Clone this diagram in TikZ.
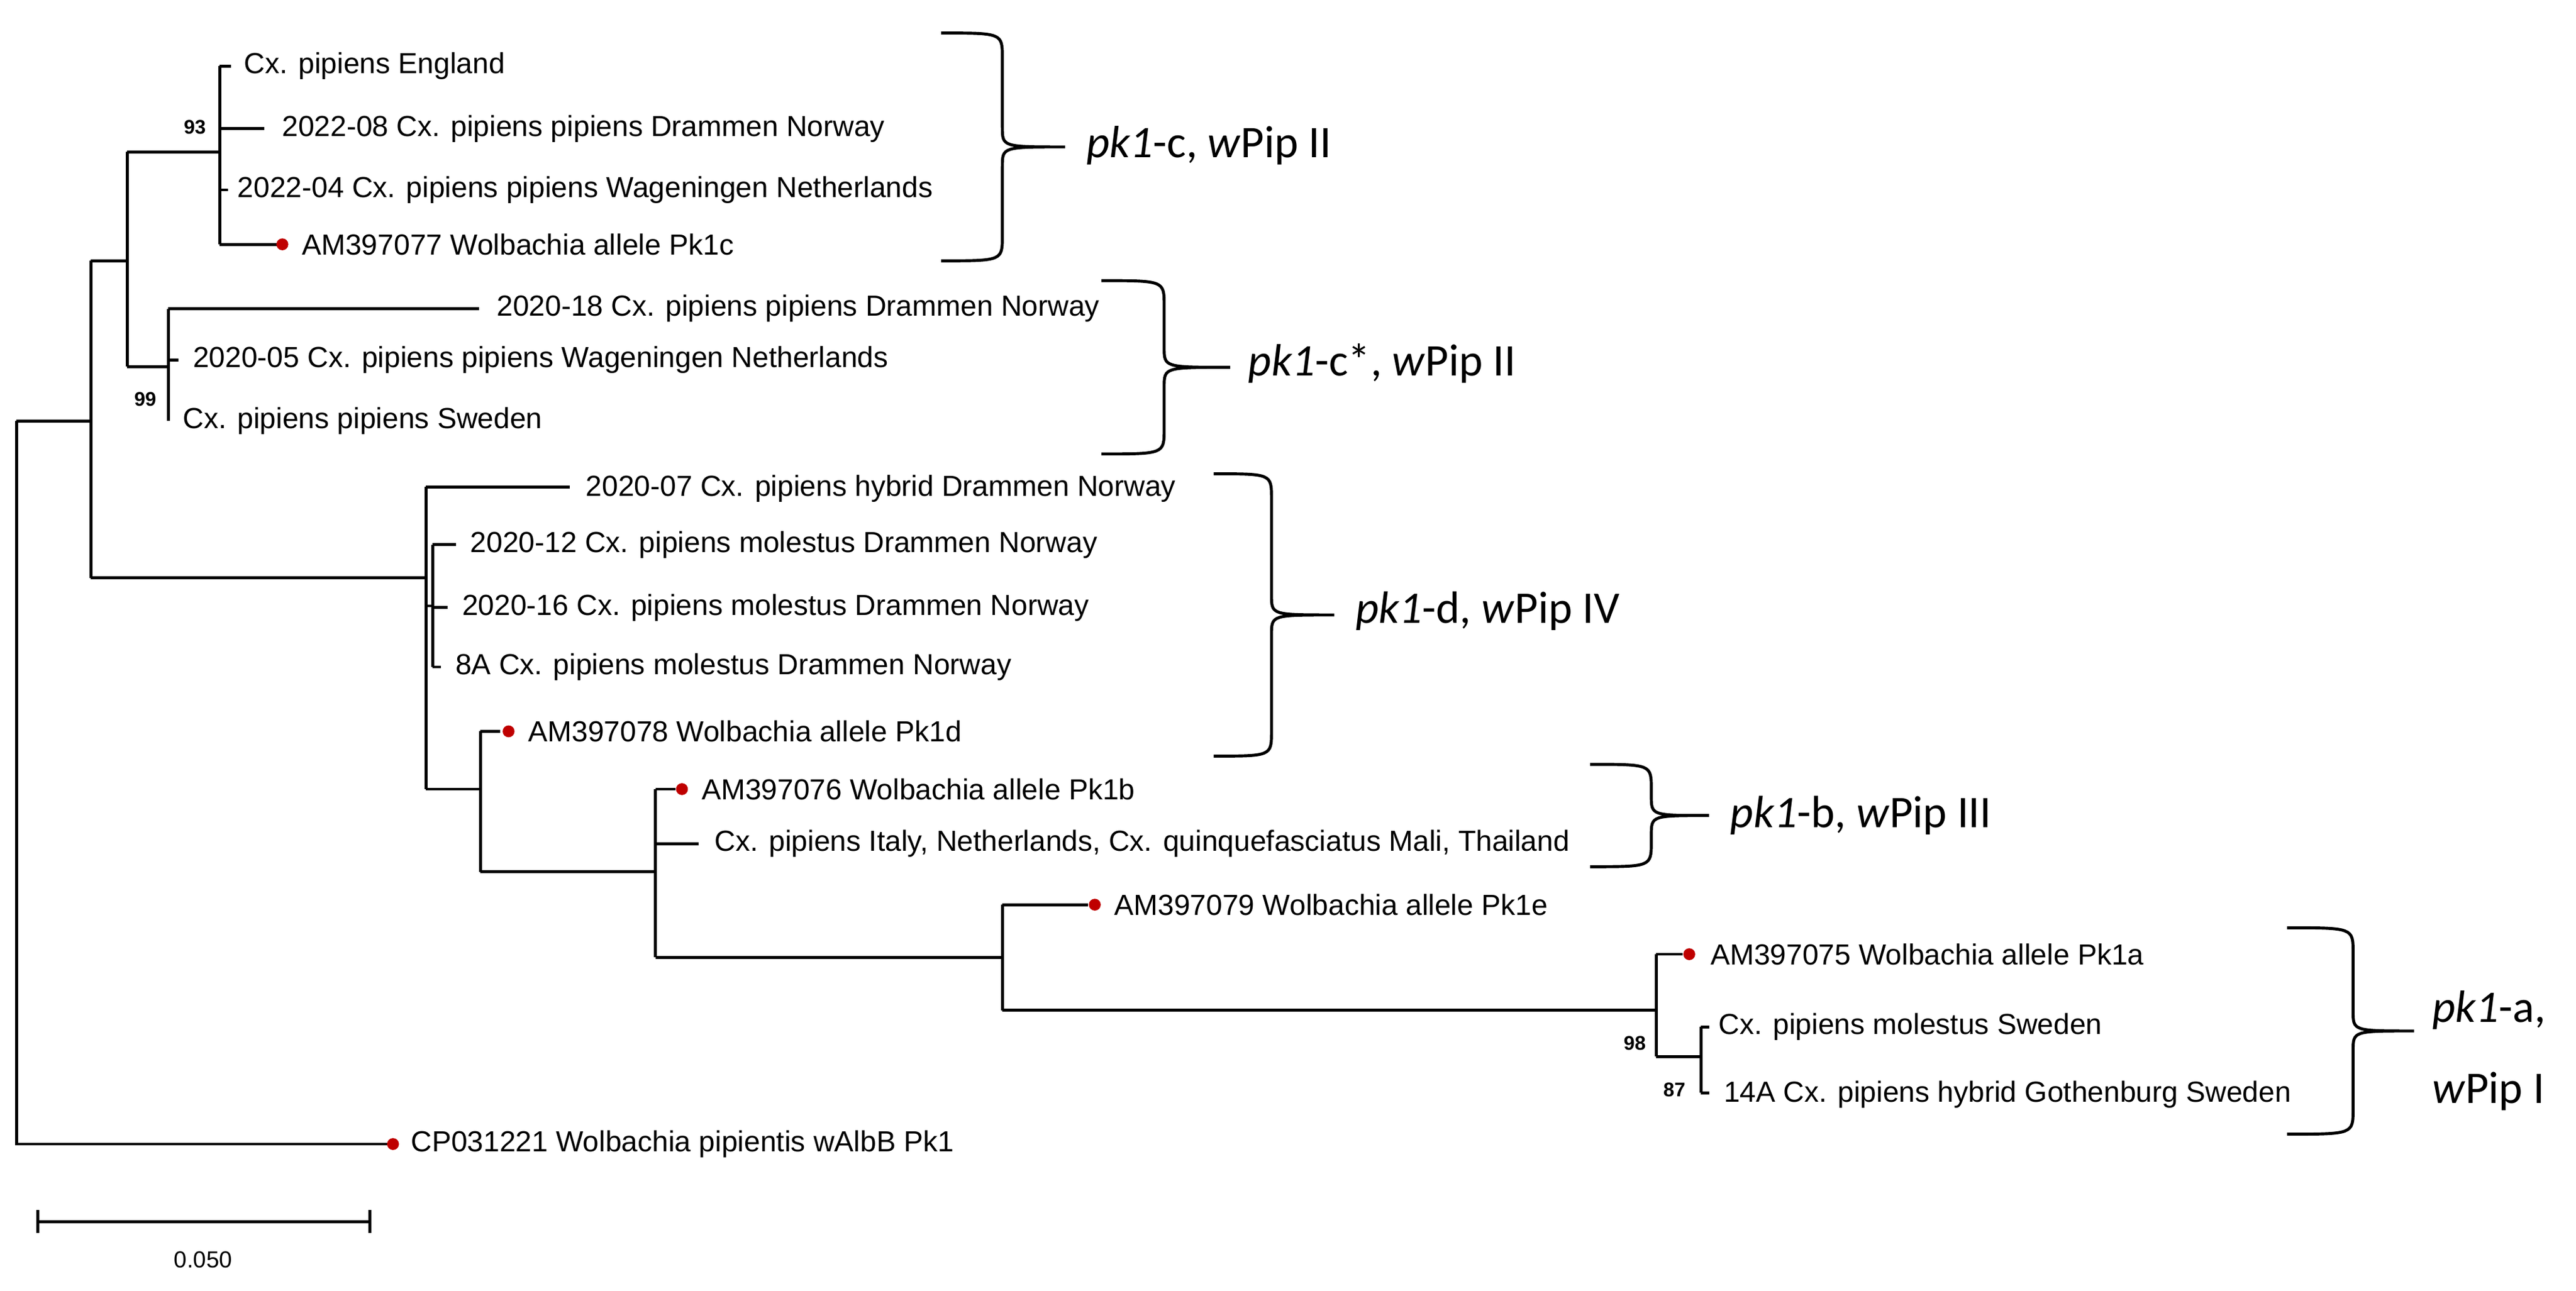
\documentclass[tikz,border=0pt]{standalone}
\usepackage{fontspec}
\setmainfont{Liberation Sans}
\newfontfamily\grpfont{Carlito}
\begin{document}
\begin{tikzpicture}[x=0.25mm,y=-0.25mm,line width=0.45mm,
 leaf/.style={anchor=west,inner sep=0,font=\fontsize{12.5}{14}\selectfont},
 bs/.style={inner sep=0,font=\bfseries\fontsize{8.5}{10}\selectfont},
 grp/.style={anchor=west,inner sep=0,font=\grpfont\fontsize{19.5}{22}\selectfont},
 dot/.style={fill=red!75!black,draw=none}]
\useasboundingbox (0,0) rectangle (1560,782);
% root
\draw (10,255) -- (10,693) -- (237,693);
\draw (10,255) -- (55,255);
\draw (55,158) -- (55,350);
\draw (55,158) -- (77,158); \draw (77,92) -- (77,222);
\draw (77,92) -- (133,92); \draw (133,40) -- (133,148);
\draw (133,40) -- (140,40);
\draw (133,78) -- (160,78);
\draw (133,115) -- (138,115);
\draw (133,148) -- (170,148);
\draw (77,222) -- (102,222); \draw (102,187) -- (102,255);
\draw (102,187) -- (290,187);
\draw (102,218) -- (108,218);
\draw (55,350) -- (258,350); \draw (258,295) -- (258,478);
\draw (258,295) -- (345,295);
\draw (258,367) -- (262,367); \draw (262,330) -- (262,404);
\draw (262,330) -- (276,330); \draw (262,368) -- (271,368); \draw (262,404) -- (267,404);
\draw (258,478) -- (291,478); \draw (291,443) -- (291,528);
\draw (291,443) -- (303,443);
\draw (291,528) -- (397,528); \draw (397,478) -- (397,580);
\draw (397,478) -- (409,478);
\draw (397,511) -- (423,511);
\draw (397,580) -- (607,580); \draw (607,548) -- (607,612);
\draw (607,548) -- (659,548);
\draw (607,612) -- (1003,612); \draw (1003,578) -- (1003,640);
\draw (1003,578) -- (1019,578);
\draw (1003,640) -- (1030,640); \draw (1030,622) -- (1030,662);
\draw (1030,622) -- (1035,622); \draw (1030,662) -- (1035,662);
% dots
\foreach \p in {(171,148),(238,693),(308,443),(413,478),(663,548),(1023,578)} \fill[dot] \p circle (3.6);
% leaves
\node[leaf] (l1) at (147,40) {Cx. pipiens England};
\node[leaf] (l2) at (170,78) {2022-08 Cx. pipiens pipiens Drammen Norway};
\node[leaf] (l3) at (143,115) {2022-04 Cx. pipiens pipiens Wageningen Netherlands};
\node[leaf] (l4) at (182,148) {AM397077 Wolbachia allele Pk1c};
\node[leaf] (l5) at (300,187) {2020-18 Cx. pipiens pipiens Drammen Norway};
\node[leaf] (l6) at (116,218) {2020-05 Cx. pipiens pipiens Wageningen Netherlands};
\node[leaf] (l7) at (110,255) {Cx. pipiens pipiens Sweden};
\node[leaf] (l8) at (354,296) {2020-07 Cx. pipiens hybrid Drammen Norway};
\node[leaf] (l9) at (284,330) {2020-12 Cx. pipiens molestus Drammen Norway};
\node[leaf] (l10) at (279,368) {2020-16 Cx. pipiens molestus Drammen Norway};
\node[leaf] (l11) at (275,404) {8A Cx. pipiens molestus Drammen Norway};
\node[leaf] (l12) at (319,443) {AM397078 Wolbachia allele Pk1d};
\node[leaf] (l13) at (424,478) {AM397076 Wolbachia allele Pk1b};
\node[leaf] (l14) at (432,511) {Cx. pipiens Italy, Netherlands, Cx. quinquefasciatus Mali, Thailand};
\node[leaf] (l15) at (674,548) {AM397079 Wolbachia allele Pk1e};
\node[leaf] (l16) at (1035,578) {AM397075 Wolbachia allele Pk1a};
\node[leaf] (l17) at (1040,622) {Cx. pipiens molestus Sweden};
\node[leaf] (l18) at (1043,663) {14A Cx. pipiens hybrid Gothenburg Sweden};
\node[leaf] (l19) at (248,693) {CP031221 Wolbachia pipientis wAlbB Pk1};
% bootstrap
\node[bs] (b1) at (118,77) {93};
\node[bs] (b2) at (88,242) {99};
\node[bs] (b3) at (990,632) {98};
\node[bs] (b4) at (1014,660) {87};
% braces
\foreach \xa/\xb/\ya/\yb/\xt in {570/607/20/158/645, 667/705/170/275/745, 735/770/287/458/808, 963/1000/463/525/1035, 1385/1425/562/687/1462}{
 \pgfmathsetmacro\ym{(\ya+\yb)/2}
 \draw (\xa,\ya) .. controls (\xb,\ya) .. (\xb,\ya+15) -- (\xb,\ym-12) .. controls (\xb,\ym) .. (\xt,\ym)
   .. controls (\xb,\ym) .. (\xb,\ym+12) -- (\xb,\yb-15) .. controls (\xb,\yb) .. (\xa,\yb);
}
\node[grp] (g1) at (657,88) {\textit{pk1}-c, \textit{w}Pip II};
\node[grp] (g2) at (755,220) {\textit{pk1}-c*, \textit{w}Pip II};
\node[grp] (g3) at (820,370) {\textit{pk1}-d, \textit{w}Pip IV};
\node[grp] (g4) at (1047,494) {\textit{pk1}-b, \textit{w}Pip III};
\node[grp] (g5) at (1472,612) {\textit{pk1}-a,};
\node[grp] (g6) at (1472,661) {\textit{w}Pip I};
% scale
\draw (23,740) -- (224,740); \draw (23,733) -- (23,747); \draw (224,733) -- (224,747);
\node[leaf,anchor=center,font=\fontsize{10}{12}\selectfont] (sc) at (123,763) {0.050};
\end{tikzpicture}
\end{document}
